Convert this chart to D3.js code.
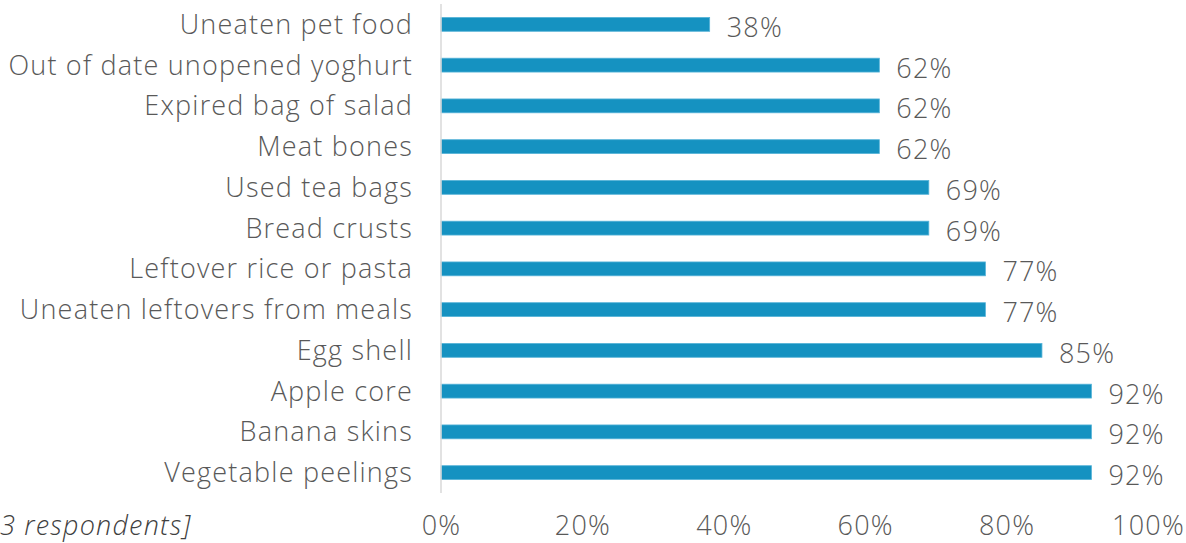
<!DOCTYPE html>
<html><head><meta charset="utf-8">
<script src="https://cdn.jsdelivr.net/npm/d3@7"></script>
<style>body{margin:0;background:#fff;} svg{display:block;} text{font-family:"Open Sans",sans-serif;fill:#595959;font-weight:300;letter-spacing:1.2px;}</style>
</head><body>
<svg id="c" width="1186" height="543"></svg>
<script>
const categories = ["Uneaten pet food","Out of date unopened yoghurt","Expired bag of salad","Meat bones","Used tea bags","Bread crusts","Leftover rice or pasta","Uneaten leftovers from meals","Egg shell","Apple core","Banana skins","Vegetable peelings"];
const values = [0.38,0.62,0.62,0.62,0.69,0.69,0.77,0.77,0.85,0.92,0.92,0.92];
const ticks = [0,0.2,0.4,0.6,0.8,1.0];
const footnote = "3 respondents]";

const svg = d3.select("#c");
const x = d3.scaleLinear().domain([0,1]).range([441,1148]);
const y = d3.scaleBand().domain(categories).range([4,493]).paddingInner(0.66).paddingOuter(0.33);
const fs = 27;

svg.selectAll("rect.bar").data(values).enter().append("rect")
  .attr("class","bar")
  .attr("x",x(0)).attr("y",(d,i)=>y(categories[i]))
  .attr("width",d=>x(d)-x(0)).attr("height",y.bandwidth())
  .attr("fill","#1592c1").attr("stroke","#56b3d8").attr("stroke-width",0.8);

svg.append("line").attr("x1",x(0)).attr("x2",x(0)).attr("y1",4).attr("y2",493)
  .attr("stroke","#d9d9d9").attr("stroke-width",1.5);

svg.selectAll("text.cat").data(categories).enter().append("text")
  .attr("class","cat").attr("x",413).attr("y",d=>y(d)+y.bandwidth()/2)
  .attr("dy","0.35em").attr("text-anchor","end").attr("font-size",fs).text(d=>d);

svg.selectAll("text.val").data(values).enter().append("text")
  .attr("class","val").attr("x",d=>x(d)+17).attr("y",(d,i)=>y(categories[i])+y.bandwidth()/2+3)
  .attr("dy","0.35em").attr("font-size",fs).text(d=>Math.round(d*100)+"%");

const ax = svg.append("g")
  .call(d3.axisBottom(x).tickValues(ticks).tickFormat(d3.format(".0%")).tickSize(0));
ax.select(".domain").remove();
ax.selectAll("text").attr("font-size",fs).attr("font-family","'Open Sans',sans-serif")
  .attr("fill","#595959").attr("y",535).attr("dy",null);

svg.append("text").attr("x",0).attr("y",535)
  .attr("font-size",fs).attr("font-style","italic").style("fill","#404040").text(footnote);
</script>
</body></html>
